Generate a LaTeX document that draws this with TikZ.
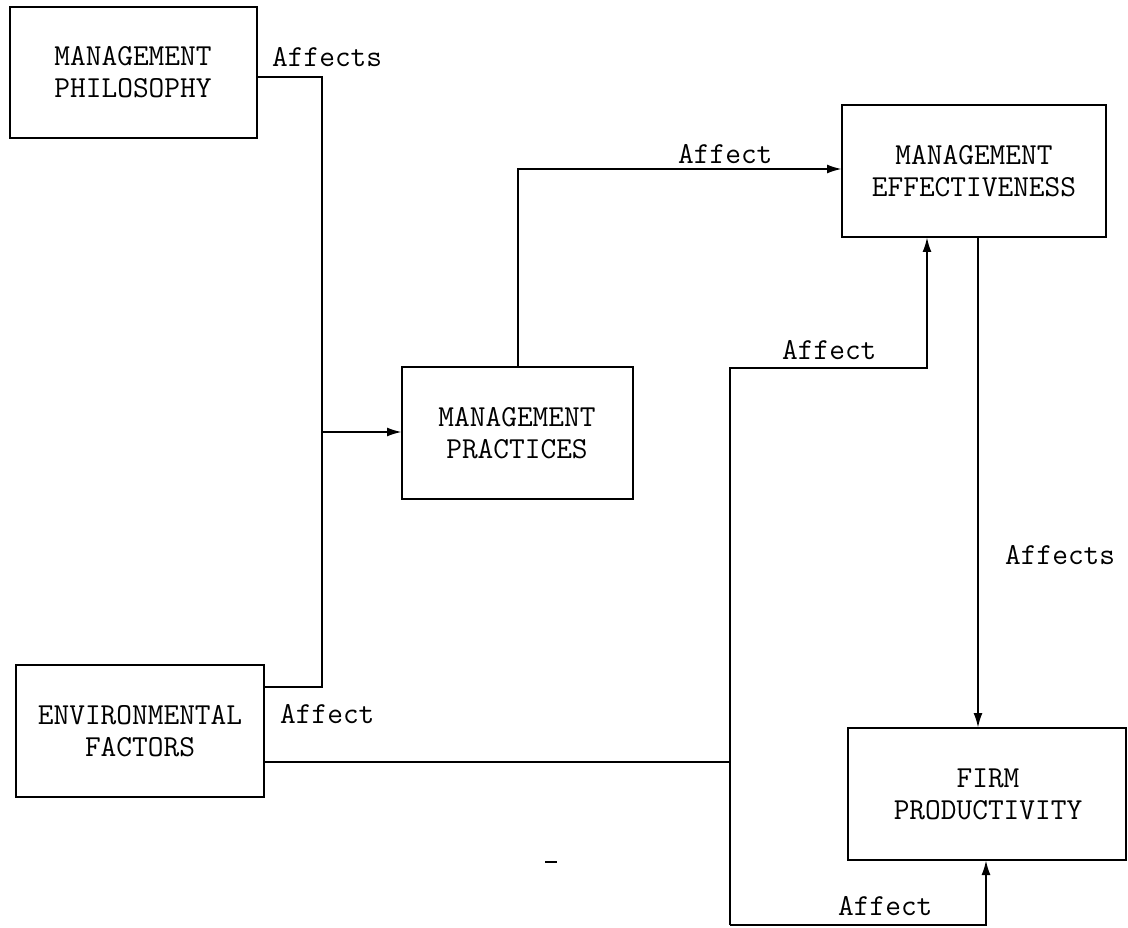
\documentclass[tikz,border=0pt]{standalone}
\usepackage{fontspec}
\usetikzlibrary{arrows.meta}
\begin{document}
\begin{tikzpicture}[x=1pt,y=-1pt,
  box/.style={draw, line width=2.4pt, inner sep=0pt},
  boxtext/.style={font=\ttfamily\fontsize{30.5}{32}\selectfont, align=center},
  lbl/.style={font=\ttfamily\fontsize{30.5}{32}\selectfont, inner sep=0pt},
  link/.style={line width=2.2pt},
  arr/.style={link, -{Latex[length=15pt,width=9pt]}}]
\useasboundingbox (0,0) rectangle (1128,928);

% boxes
\draw[box] (10,7) rectangle (257,138);
\node[boxtext] (phil) at (133,72) {MANAGEMENT\\PHILOSOPHY};
\coordinate (philE) at (257,77);

\draw[box] (16,665) rectangle (264,797);
\node[boxtext] (env) at (140,731) {ENVIRONMENTAL\\FACTORS};
\coordinate (envE1) at (264,687);
\coordinate (envE2) at (264,762);

\draw[box] (402,367) rectangle (633,499);
\node[boxtext] (prac) at (517,433) {MANAGEMENT\\PRACTICES};
\coordinate (pracW) at (402,432);
\coordinate (pracN) at (518,367);

\draw[box] (842,105) rectangle (1106,237);
\node[boxtext] (eff) at (974,171) {MANAGEMENT\\EFFECTIVENESS};
\coordinate (effW) at (842,169);
\coordinate (effS1) at (927,237);
\coordinate (effS2) at (978,237);

\draw[box] (848,728) rectangle (1126,860);
\node[boxtext] (firm) at (988,794) {FIRM\\PRODUCTIVITY};
\coordinate (firmN) at (978,728);
\coordinate (firmS) at (986,860);

% junction points
\coordinate (j1) at (322,77);
\coordinate (j2) at (322,687);
\coordinate (jin) at (322,432);
\coordinate (jtop) at (730,368);
\coordinate (jmid) at (730,762);
\coordinate (jbot) at (730,925);

% connectors
\draw[link] (philE) -- (j1) -- (j2) -- (envE1);
\draw[arr] (jin) -- (pracW);
\draw[arr] (pracN) |- (effW);
\draw[link] (envE2) -- (jmid);
\draw[arr] (jbot) -- (jtop) -| (effS1);
\draw[arr] (jbot) -| (firmS);
\draw[arr] (effS2) -- (firmN);

% labels
\node[lbl, anchor=west] (l1) at (272,57) {Affects};
\node[lbl, anchor=west] (l2) at (280,714) {Affect};
\node[lbl, anchor=west] (l3) at (678,154) {Affect};
\node[lbl, anchor=west] (l4) at (782,350) {Affect};
\node[lbl, anchor=west] (l5) at (1005,555) {Affects};
\node[lbl, anchor=west] (l6) at (838,906) {Affect};

% stray mark
\draw[line width=2.4pt] (545,862) -- (557,862);
\end{tikzpicture}
\end{document}
